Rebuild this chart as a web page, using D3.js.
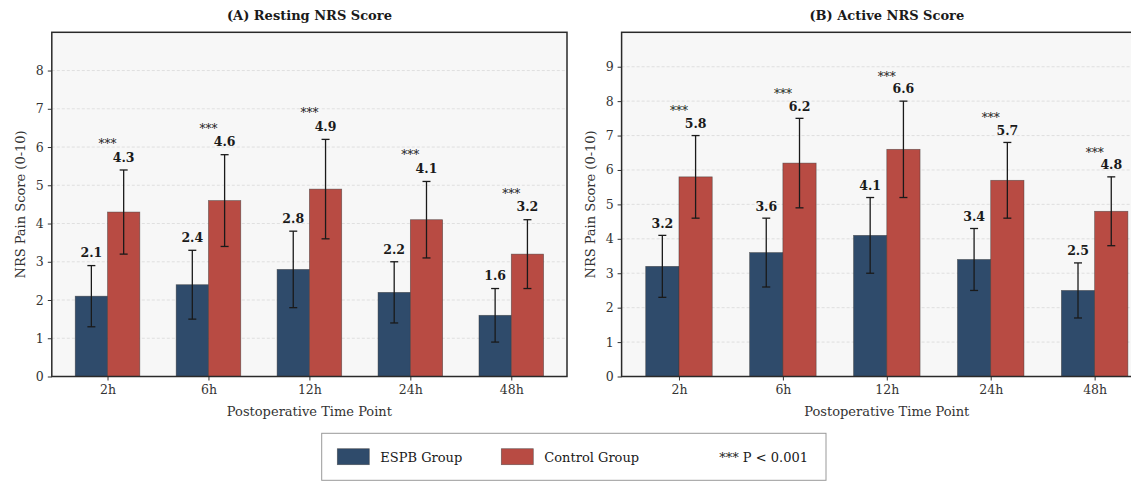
<!DOCTYPE html>
<html>
<head>
<meta charset="utf-8">
<script src="https://cdn.jsdelivr.net/npm/d3@7/dist/d3.min.js"></script>
<style>
  html, body { margin: 0; padding: 0; background: #ffffff; }
  svg { display: block; font-family: "DejaVu Serif", serif; }
</style>
</head>
<body>
<svg id="chart" width="1131" height="481"></svg>
<script>
// Time points and group summaries (mean ± SD)
const timePoints = ["2h", "6h", "12h", "24h", "48h"];

const restEspbMean = [2.1, 2.4, 2.8, 2.2, 1.6];
const restEspbSd = [0.8, 0.9, 1.0, 0.8, 0.7];
const restControlMean = [4.3, 4.6, 4.9, 4.1, 3.2];
const restControlSd = [1.1, 1.2, 1.3, 1.0, 0.9];

const activeEspbMean = [3.2, 3.6, 4.1, 3.4, 2.5];
const activeEspbSd = [0.9, 1.0, 1.1, 0.9, 0.8];
const activeControlMean = [5.8, 6.2, 6.6, 5.7, 4.8];
const activeControlSd = [1.2, 1.3, 1.4, 1.1, 1.0];

const significance = ["***", "***", "***", "***", "***"];

const restTicks = [0, 1, 2, 3, 4, 5, 6, 7, 8];
const activeTicks = [0, 1, 2, 3, 4, 5, 6, 7, 8, 9];

const groupNames = ["ESPB Group", "Control Group"];
const groupColors = ["#2f4b6b", "#b84b43"];
const pNote = "*** P < 0.001";

const svg = d3.select("#chart");
svg.append("rect").attr("width", 1131).attr("height", 481).attr("fill", "#ffffff");

const barWidth = 0.32;
const xDomain = [-0.552, 4.552];

function drawPanel(opts) {
  const g = svg.append("g");
  const x = d3.scaleLinear().domain(xDomain).range([opts.left, opts.right]);
  const y = d3.scaleLinear().domain([0, opts.yMax]).range([opts.bottom, opts.top]);
  const unit = x(1) - x(0);

  // plot background
  g.append("rect")
    .attr("x", opts.left).attr("y", opts.top)
    .attr("width", opts.right - opts.left).attr("height", opts.bottom - opts.top)
    .attr("fill", "#f7f7f7");

  // horizontal grid
  g.append("g").selectAll("line").data(opts.ticks.slice(1)).join("line")
    .attr("x1", opts.left).attr("x2", opts.right)
    .attr("y1", d => y(d)).attr("y2", d => y(d))
    .attr("stroke", "#d9d9d9").attr("stroke-width", 0.8)
    .attr("stroke-dasharray", "3,2");

  const series = [
    { mean: opts.espbMean, sd: opts.espbSd, color: groupColors[0], off: -barWidth / 2 },
    { mean: opts.controlMean, sd: opts.controlSd, color: groupColors[1], off: barWidth / 2 }
  ];

  series.forEach(s => {
    const idx = d3.range(timePoints.length);
    // bars
    g.append("g").selectAll("rect").data(idx).join("rect")
      .attr("x", i => x(i + s.off - barWidth / 2))
      .attr("y", i => y(s.mean[i]))
      .attr("width", barWidth * unit)
      .attr("height", i => y(0) - y(s.mean[i]))
      .attr("fill", s.color)
      .attr("stroke", "#333333").attr("stroke-opacity", 0.6).attr("stroke-width", 0.7);
    // error bars
    const eb = g.append("g").attr("stroke", "#1a1a1a").attr("stroke-width", 1.3);
    idx.forEach(i => {
      const cx = x(i + s.off);
      const lo = y(s.mean[i] - s.sd[i]);
      const hi = y(s.mean[i] + s.sd[i]);
      eb.append("line").attr("x1", cx).attr("x2", cx).attr("y1", lo).attr("y2", hi);
      eb.append("line").attr("x1", cx - 4).attr("x2", cx + 4).attr("y1", lo).attr("y2", lo);
      eb.append("line").attr("x1", cx - 4).attr("x2", cx + 4).attr("y1", hi).attr("y2", hi);
    });
    // value labels
    g.append("g").selectAll("text").data(idx).join("text")
      .attr("x", i => x(i + s.off))
      .attr("y", i => y(s.mean[i] + s.sd[i] + 0.15) - 2.5)
      .attr("text-anchor", "middle")
      .attr("font-size", 12.5).attr("font-weight", "bold").attr("fill", "#1a1a1a")
      .text(i => s.mean[i].toFixed(1));
  });

  // significance markers
  g.append("g").selectAll("text").data(d3.range(timePoints.length)).join("text")
    .attr("x", i => x(i))
    .attr("y", i => y(Math.max(opts.controlMean[i] + opts.controlSd[i], opts.espbMean[i] + opts.espbSd[i]) + 0.5) - 3)
    .attr("text-anchor", "middle")
    .attr("font-size", 12).attr("fill", "#1a1a1a")
    .text(i => significance[i]);

  // axes
  const yAxis = d3.axisLeft(y).tickValues(opts.ticks).tickFormat(d3.format("d")).tickSize(4).tickPadding(4);
  const yg = g.append("g").attr("transform", `translate(${opts.left},0)`).call(yAxis);
  yg.select(".domain").remove();
  yg.selectAll("line").attr("stroke", "#333");
  yg.selectAll("text").attr("font-size", 12.5).attr("fill", "#333").attr("font-family", "DejaVu Serif");

  const xAxis = d3.axisBottom(x).tickValues(d3.range(timePoints.length)).tickFormat(i => timePoints[i]).tickSize(4).tickPadding(5);
  const xg = g.append("g").attr("transform", `translate(0,${opts.bottom})`).call(xAxis);
  xg.select(".domain").remove();
  xg.selectAll("line").attr("stroke", "#333");
  xg.selectAll("text").attr("font-size", 12.5).attr("fill", "#333").attr("font-family", "DejaVu Serif");

  // frame
  g.append("rect")
    .attr("x", opts.left).attr("y", opts.top)
    .attr("width", opts.right - opts.left).attr("height", opts.bottom - opts.top)
    .attr("fill", "none").attr("stroke", "#2a2a2a").attr("stroke-width", 1.5);

  // titles and labels
  g.append("text")
    .attr("x", (opts.left + opts.right) / 2).attr("y", 20)
    .attr("text-anchor", "middle").attr("font-size", 13).attr("font-weight", "bold").attr("fill", "#1a1a1a")
    .text(opts.title);
  g.append("text")
    .attr("x", (opts.left + opts.right) / 2).attr("y", 416)
    .attr("text-anchor", "middle").attr("font-size", 13).attr("fill", "#333")
    .text("Postoperative Time Point");
  g.append("text")
    .attr("transform", `translate(${opts.left - 27},${(opts.top + opts.bottom) / 2}) rotate(-90)`)
    .attr("text-anchor", "middle").attr("font-size", 13).attr("fill", "#333")
    .text("NRS Pain Score (0-10)");
}

drawPanel({
  title: "(A) Resting NRS Score",
  left: 51.8, right: 567, top: 32.3, bottom: 376.5, yMax: 9.0, ticks: restTicks,
  espbMean: restEspbMean, espbSd: restEspbSd,
  controlMean: restControlMean, controlSd: restControlSd
});

drawPanel({
  title: "(B) Active NRS Score",
  left: 621.6, right: 1152, top: 32.3, bottom: 376.5, yMax: 10.0, ticks: activeTicks,
  espbMean: activeEspbMean, espbSd: activeEspbSd,
  controlMean: activeControlMean, controlSd: activeControlSd
});

// legend
const leg = svg.append("g");
leg.append("rect")
  .attr("x", 321.7).attr("y", 433.3).attr("width", 504.3).attr("height", 47)
  .attr("fill", "#ffffff").attr("stroke", "#999999").attr("stroke-width", 1);
const legX = [337.3, 501.3];
groupNames.forEach((name, i) => {
  leg.append("rect")
    .attr("x", legX[i]).attr("y", 448.7).attr("width", 32).attr("height", 16)
    .attr("fill", groupColors[i]).attr("stroke", "#333").attr("stroke-opacity", 0.6).attr("stroke-width", 0.7);
  leg.append("text")
    .attr("x", legX[i] + 43).attr("y", 461.5)
    .attr("font-size", 13).attr("fill", "#1a1a1a")
    .text(name);
});
leg.append("text")
  .attr("x", 808).attr("y", 461.5).attr("text-anchor", "end")
  .attr("font-size", 13).attr("fill", "#1a1a1a")
  .text(pNote);
</script>
</body>
</html>
